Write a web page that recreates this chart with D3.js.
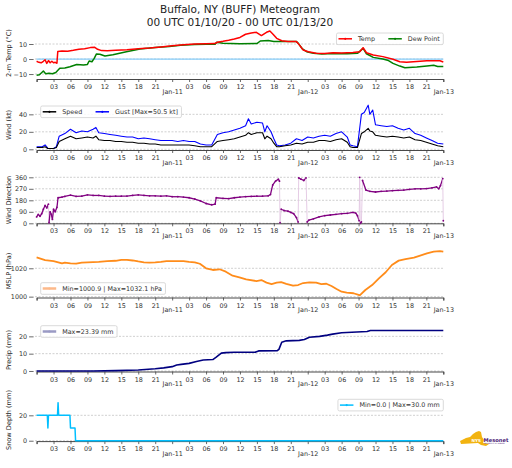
<!DOCTYPE html>
<html>
<head>
<meta charset="utf-8">
<script src="https://cdn.jsdelivr.net/npm/d3@7"></script>
<style>
  body { margin: 0; background: #fff; }
  svg { display: block; font-family: "DejaVu Sans", sans-serif; }
</style>
</head>
<body>
<svg id="chart" width="512" height="468"></svg>
<script>
// ---- data (hours since 00 UTC 01/10/20, value) ----
const titleLines = ["Buffalo, NY (BUFF) Meteogram", "00 UTC 01/10/20 - 00 UTC 01/13/20"];
const hourLabels = ["03", "06", "09", "12", "15", "18", "21"];
const dayLabels = ["", "Jan-11", "Jan-12", "Jan-13"];

const temp = [[0,-1.5],[0.4,-2.2],[0.8,-2.5],[1.2,-1.5],[1.5,-0.5],[1.8,-2.9],[2.1,-1],[2.4,-2.5],[2.7,-1.5],
  [3.0,-2.5],[3.3,-2.2],[3.6,-2.8],[3.75,5],[4.5,5.3],[5.5,5.2],[6.5,5.8],[7.5,6.5],[8.5,6.8],[9.5,7.6],
  [10.3,7.8],[10.8,6.5],[11.5,5.6],[12.5,5.5],[14,5.8],[16,6.2],[18,6.8],[20,7.3],[22,8],[24,8.8],[26,9.5],
  [28,10],[30,10.2],[31.5,10.3],[32,11.2],[33,11.8],[34,12.5],[35,13.3],[36,14.4],[37,16.5],[38,17.3],
  [38.9,17.8],[39.8,15.6],[40.7,17.8],[41.3,18.7],[41.9,16.4],[42.5,13.8],[43.4,12.2],[44.5,11.6],[46,11.6],
  [46.3,10.4],[47.2,6],[48.1,4.9],[49.5,3.8],[51,3.7],[52.5,4.2],[54,4],[56,4.4],[57.2,4.9],[57.8,7.5],
  [58.4,4.2],[59.6,2.7],[61.3,1.6],[63.1,-0.2],[64.3,-1.8],[65.5,-2.2],[67.3,-1.6],[69.1,-1.2],[71.4,-1.2],[72,-2]];
const dewPoint = [[0,-10.8],[0.5,-10.5],[1.2,-8],[1.6,-9.8],[2.2,-9.5],[2.8,-9.8],[3.4,-9],[4.1,-6.2],[5,-6],
  [5.9,-5.1],[7.1,-3.6],[8.3,-4],[9,-3.6],[9.3,-1.3],[9.8,-1.8],[10.2,0.4],[10.6,3.4],[11.2,3.2],[12.1,2],
  [13.5,2.8],[15.9,4.9],[18.3,6.7],[21,7.6],[23.5,8.4],[25.5,9.2],[28,9.6],[30,9.8],[31.6,9.8],[31.9,11.2],
  [33,10.5],[36,10.2],[39,10.3],[39.6,12],[41,12.3],[42,11.6],[44,11.7],[46,11.6],[46.3,10.6],[47,7],
  [47.8,4.9],[49,3.8],[50.5,3.3],[52.5,3.6],[55,3.5],[56.8,3.8],[57.8,7.1],[58.4,3.5],[59.6,1.1],[61.3,0],
  [62.3,-1],[63.1,-2.9],[64.3,-4.7],[65.2,-5.8],[67.3,-5.3],[69.1,-4.7],[70.3,-4.2],[71,-5],[72,-5]];

const windHours = [0,1,1.5,2,3,3.5,4,5,6,7,8,9,10,10.5,11,12,13,14,15,16,17,18,19,20,21,22,23,24,25,26,27,28,29,30,31,
  32,33,34,35,36,37,37.5,38,39,40,40.4,40.8,41.5,42,42.5,43,44,45,46,47,48,49,50,51,52,53,54,55,55.5,56,56.8,
  57.5,58,58.7,59,59.5,60,61,62,63,64,65,66,67,68,69,70,71,72];
const windSpeed = [2,2,3,1,1,2,9,12,15,12,13,14,13,15,11,10,10,9,9,8,8,7,7,6,6,5,5,5,5,5,5,4,3,3,3,
  9,10,11,12,14,16,19,17,19,19,12,15,12,7,3,3,4,5,7,6,8,8,10,10,9,11,12,8,3,2,2,
  18,20,24,21,20,16,15,14,15,14,13,14,11,10,8,6,4,3];
const windGust = [3,3,5,1,1,3,15,18,23,19,21,20,23,25,19,18,17,16,15,14,14,12,13,12,11,10,10,10,9,10,9,9,6,5,5,
  17,19,20,22,24,27,35,29,31,30,20,27,20,12,5,4,5,7,12,10,14,13,15,16,15,18,20,14,5,4,3,
  40,42,50.5,40,45,28,27,26,27,24,22,24,18,16,13,10,7,6];

const windDir = [[0,50],[0.3,70],[0.6,55],[0.9,75],[1.2,110],[1.5,140],[1.8,120],[2.1,150],[2.2,5],[2.4,90],
  [2.6,70],[2.8,30],[3.0,110],[3.3,90],[3.6,125],[3.8,200],[4.5,205],[5,210],[6,220],[7,210],[8,212],[9,222],
  [10,218],[11,218],[12,212],[13,210],[14,212],[15,212],[16,213],[17,218],[18,222],[19,218],[20,215],[21,215],
  [22,212],[23,215],[24,208],[25,208],[26,205],[27,200],[28,190],[29,175],[30,155],[31,145],[31.6,150],
  [31.8,200],[33,195],[34,193],[35,200],[36,205],[37,208],[38,210],[39,212],[40,212],[41,215],[41.4,225],
  [41.8,300],[42.3,330],[42.8,345],[43.0,330],[43.1,5],[43.3,110],[43.8,100],[44.5,95],[45,85],[45.5,75],
  [46,45],[46.3,10],[46.4,355],[46.8,345],[47.3,335],[47.7,355],[47.9,10],[48.2,25],[49,35],[50,50],[51,60],
  [52,65],[53,70],[54,75],[55,78],[56,85],[56.5,80],[56.8,60],[57.1,20],[57.2,360],[57.3,0],[57.5,10],
  [57.7,335],[58.3,260],[59,250],[60,245],[61,250],[62,252],[63,255],[64,258],[65,260],[66,265],[67,270],
  [68,270],[69,272],[70,278],[70.8,285],[71.2,270],[71.5,295],[71.9,350],[72,20]];

const mslp = [[0,1027.7],[1.5,1025.8],[3,1025.1],[4.5,1023.5],[5,1024],[6,1023.5],[7,1023.3],[8,1024],[9,1024.2],
  [11,1024.5],[12.5,1025],[14,1025.3],[15,1026],[16,1026],[17,1025.5],[18,1024.8],[19,1024.2],[20,1024],
  [21,1024.2],[22,1024.5],[23,1025],[24,1025],[26,1025],[27,1024.5],[28,1024.2],[28.9,1023.2],[30,1020],
  [31.2,1018.8],[32.4,1019.3],[33.5,1017.6],[34.7,1014.8],[35.9,1013.6],[37.1,1012.2],[38.9,1011],
  [39.8,1011.7],[40.7,1009.9],[41.6,1008.9],[42.5,1009.9],[43.3,1010.2],[44.2,1009],[45.4,1007.7],
  [46.3,1008.2],[47.2,1009.6],[48.3,1010.1],[49.5,1009.9],[50.4,1008.9],[51.3,1009.1],[52.2,1007.5],
  [53.1,1005.4],[54,1003.5],[54.9,1002.8],[56.1,1002.4],[57,1001.2],[57.2,1000.9],[58.2,1004.7],
  [59.4,1008.2],[60.6,1012.9],[61.8,1017.2],[62.9,1022.3],[64.1,1025.4],[65.3,1026.5],[66.8,1027.5],
  [67.9,1028.9],[69.1,1030.5],[70.3,1031.7],[71.4,1032.1],[72,1031.7]];

const precip = [[0,0],[10,0],[14,0.2],[18,0.6],[21,1.3],[22.5,1.8],[24,2.5],[24.8,3.5],[25.6,3.8],[27,4.4],
  [28.3,5.5],[29.5,6.3],[31.2,6.6],[31.8,8],[32.7,10.3],[33.5,10.6],[35,10.8],[38.8,10.9],[39.3,11.6],
  [42.6,11.7],[42.9,12.5],[43.4,16.6],[44.2,17.4],[46.5,17.7],[47.4,18.2],[48.3,19.5],[50.1,20],[51.5,20.7],
  [52.4,21.3],[54,22.1],[56.7,22.5],[58.5,22.8],[59.1,23.39],[72,23.39]];

const snowDepth = [[0,20],[1.9,20],[2,10],[2.1,20],[3.7,20],[3.8,30],[3.9,20],[5.9,20],[6,10],[6.8,10],
  [6.9,0],[72,0]];

const tempTicks = [-10, 0, 10];
const windTicks = [0, 20, 40];
const dirTicks = [0, 90, 180, 270, 360];
const mslpTicks = [1000, 1020];
const precipTicks = [0, 10, 20];
const snowTicks = [0, 20];

// ---- layout ----
const svg = d3.select("#chart");
svg.append("rect").attr("width", 512).attr("height", 468).attr("fill", "#fff");

const x = d3.scaleLinear().domain([0, 72]).range([36.6, 443.3]);
const FS = 6.4;

svg.selectAll("text.title").data(titleLines).join("text")
  .attr("x", 240).attr("y", (d, i) => 12.8 + i * 13)
  .attr("text-anchor", "middle").attr("font-size", 10.5).attr("fill", "#222")
  .text(d => d);

// builds one panel (grid, axes, label) and returns its y scale
function panel(top, bottom, domain, ticks, label, labelY) {
  const g = svg.append("g");
  const y = d3.scaleLinear().domain(domain).range([bottom, top]);

  g.selectAll("line.grid").data(ticks).join("line")
    .attr("x1", 35).attr("x2", 443.3)
    .attr("y1", d => y(d)).attr("y2", d => y(d))
    .attr("stroke", "#c4c4c4").attr("stroke-width", 0.8)
    .attr("stroke-dasharray", "2,1.5");

  const ya = g.append("g").attr("transform", "translate(33.6,0)")
    .call(d3.axisLeft(y).tickValues(ticks).tickSize(4.5).tickPadding(2)
      .tickFormat(d => d < 0 ? "\u2212" + Math.abs(d) : String(d)));
  ya.select(".domain").remove();
  ya.selectAll("line").attr("stroke", "#444").attr("stroke-width", 0.8);
  ya.selectAll("text").attr("font-size", FS).attr("fill", "#333").attr("font-family", "DejaVu Sans");

  // x axis: hour ticks and day ticks
  const hourTicks = [];
  [0, 24, 48].forEach(d => hourLabels.forEach(h => hourTicks.push(d + +h)));
  const xa = g.append("g").attr("transform", `translate(0,${bottom})`)
    .call(d3.axisBottom(x).tickValues(hourTicks).tickSize(3).tickPadding(2.5)
      .tickFormat(d => hourLabels[(d % 24) / 3 - 1]));
  xa.select(".domain").attr("stroke", "#333").attr("stroke-width", 0.9);
  const xd = g.append("g").attr("transform", `translate(0,${bottom})`)
    .call(d3.axisBottom(x).tickValues([0, 24, 48, 72]).tickSize(3).tickPadding(7)
      .tickFormat((d, i) => dayLabels[i]));
  xd.select(".domain").remove();
  [xa, xd].forEach(a => {
    a.selectAll("line").attr("stroke", "#444").attr("stroke-width", 0.8);
    a.selectAll("text").attr("font-size", FS).attr("fill", "#333").attr("font-family", "DejaVu Sans");
  });

  g.append("text")
    .attr("transform", `translate(11,${labelY}) rotate(-90)`)
    .attr("text-anchor", "middle").attr("font-size", 6.6).attr("fill", "#222")
    .text(label);
  return { g, y };
}

function drawLine(p, data, color, width, opacity) {
  p.g.append("path").datum(data)
    .attr("d", d3.line().x(d => x(d[0])).y(d => p.y(d[1])))
    .attr("fill", "none").attr("stroke", color).attr("stroke-width", width)
    .attr("stroke-opacity", opacity || 1).attr("stroke-linejoin", "round");
}

function legend(p, lx, ly, items, alignRight) {
  const lg = p.g.append("g");
  const box = lg.append("rect");
  let cx = lx + 2;
  const cy = ly + 5.8;
  items.forEach(it => {
    lg.append("line").attr("x1", cx).attr("x2", cx + 13.5).attr("y1", cy).attr("y2", cy)
      .attr("stroke", it.color).attr("stroke-width", it.w || 1.5).attr("stroke-opacity", it.op || 1);
    lg.append("circle").attr("cx", cx + 6.75).attr("cy", cy).attr("r", 1.1)
      .attr("fill", it.color).attr("fill-opacity", it.op || 1);
    const t = lg.append("text").attr("x", cx + 19.5).attr("y", cy + 2.3)
      .attr("font-size", FS).attr("fill", "#333").text(it.label);
    cx += 19.5 + t.node().getComputedTextLength() + 13.3;
  });
  const w = cx - 13.3 + 3.5 - lx;
  box.attr("x", lx).attr("y", ly).attr("width", w).attr("height", 11.6).attr("rx", 1.5)
    .attr("fill", "#fff").attr("fill-opacity", 0.85).attr("stroke", "#d0d0d0").attr("stroke-width", 0.8);
  if (alignRight) lg.attr("transform", `translate(${443.3 - (lx + w)},0)`);
}

// panel 1: temperature
const p1 = panel(30.2, 79, [-13.3, 19.2], tempTicks, "2-m Temp (°C)", 53);
p1.g.append("line").attr("x1", 36.6).attr("x2", 443.3).attr("y1", p1.y(0)).attr("y2", p1.y(0))
  .attr("stroke", "#87cefa").attr("stroke-width", 1.2);
drawLine(p1, dewPoint, "#008000", 1.5);
drawLine(p1, temp, "#ff0000", 1.5);
legend(p1, 334, 33, [{ color: "#ff0000", label: "Temp" }, { color: "#008000", label: "Dew Point" }], true);

// panel 2: wind
const p2 = panel(103.4, 150, [-0.8, 52.5], windTicks, "Wind (kt)", 125);
drawLine(p2, windHours.map((h, i) => [h, windGust[i]]), "#0000ff", 1.1);
drawLine(p2, windHours.map((h, i) => [h, windSpeed[i]]), "#000000", 1.1);
legend(p2, 40.7, 106, [{ color: "#000", label: "Speed" }, { color: "#0000ff", label: "Gust [Max=50.5 kt]" }]);

// panel 3: wind direction, faint lines across big jumps
const p3 = panel(177.3, 223.3, [0, 360], dirTicks, "Wind Direction", 200);
d3.pairs(windDir).forEach(([a, b]) => {
  const big = Math.abs(a[1] - b[1]) > 90;
  p3.g.append("line").attr("x1", x(a[0])).attr("x2", x(b[0]))
    .attr("y1", p3.y(a[1])).attr("y2", p3.y(b[1]))
    .attr("stroke", big ? "#e2c6e2" : "#800080").attr("stroke-width", big ? 0.9 : 1.3);
});
p3.g.selectAll("circle.dir").data(windDir).join("circle")
  .attr("cx", d => x(d[0])).attr("cy", d => p3.y(d[1])).attr("r", 0.9).attr("fill", "#800080");

// panel 4: MSLP
const p4 = panel(249, 297.5, [999.4, 1033.6], mslpTicks, "MSLP (hPa)", 271);
drawLine(p4, mslp, "#ff8c1a", 1.8);
legend(p4, 40.7, 282.7, [{ color: "#fcb98a", label: "Min=1000.9 | Max=1032.1 hPa", w: 2.5 }]);

// panel 5: precip
const p5 = panel(327.7, 371.5, [-0.3, 25], precipTicks, "Precip (mm)", 350);
drawLine(p5, precip, "#000080", 1.6);
legend(p5, 40.7, 325.7, [{ color: "#9a9ac4", label: "Max=23.39 mm", w: 2.5 }]);

// panel 6: snow depth
const p6 = panel(400.6, 441.1, [-0.3, 31.6], snowTicks, "Snow Depth (mm)", 420);
drawLine(p6, snowDepth, "#00bfff", 1.5);
legend(p6, 335, 399.3, [{ color: "#00bfff", label: "Min=0.0 | Max=30.0 mm" }], true);

// NYS Mesonet logo
const logo = svg.append("g");
logo.append("path")
  .attr("d", "M460,441 L466,438 L470,437 L473,434 L476,432 L479,431 L481,432 L482,437 L484,440 L483,443 L489,444 L486,446 L481,445 L478,443 L461,444 Z")
  .attr("fill", "#f2b310");
logo.append("text").attr("x", 471.5).attr("y", 441.5).attr("font-size", 4.2).attr("font-weight", "bold")
  .attr("fill", "#fff").text("NYS");
logo.append("text").attr("x", 483.5).attr("y", 441.8).attr("font-size", 5.2).attr("font-weight", "bold")
  .attr("fill", "#4a2176").text("Mesonet");
logo.append("text").attr("x", 483.8).attr("y", 444.3).attr("font-size", 1.8)
  .attr("fill", "#4a2176").text("UNIVERSITY AT ALBANY");
</script>
</body>
</html>
